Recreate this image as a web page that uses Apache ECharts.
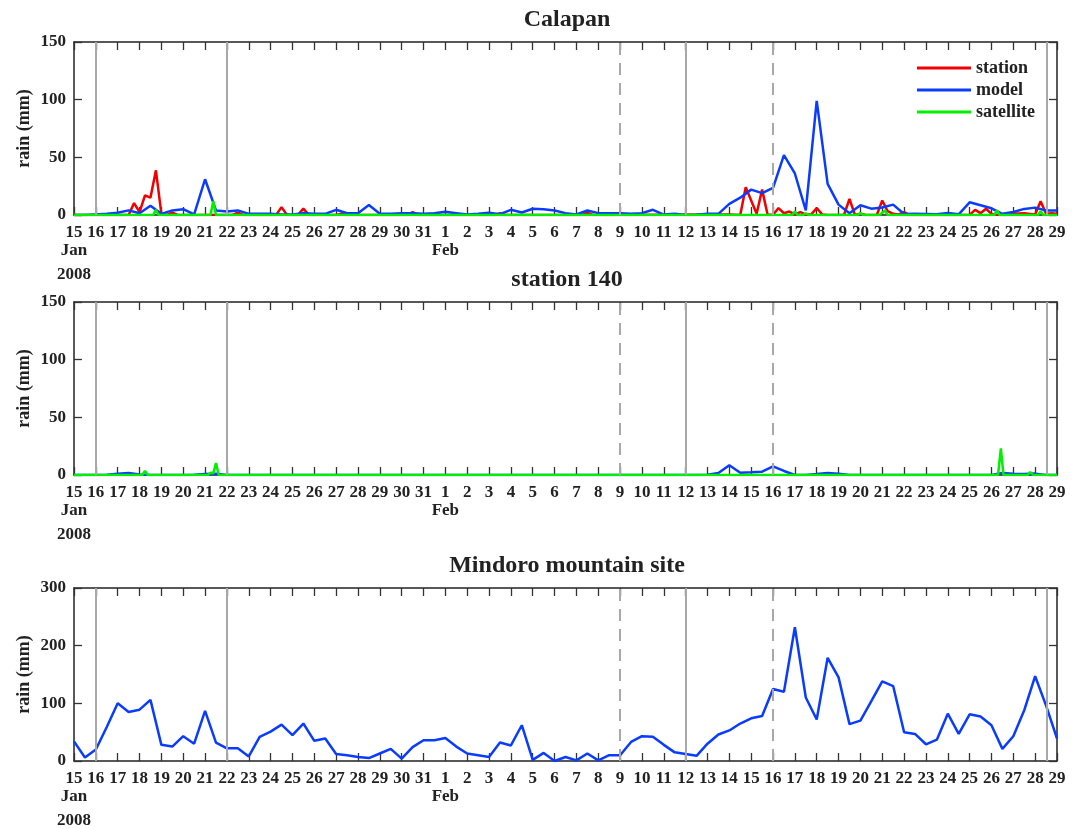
<!DOCTYPE html>
<html>
<head>
<meta charset="utf-8">
<script src="https://cdn.jsdelivr.net/npm/echarts@6/dist/echarts.min.js"></script>
<style>
   html, body { margin: 0; padding: 0; background: #fff; }
   #chart { width: 1081px; height: 829px; }
</style>
</head>
<body>
<div id="chart"></div>
<script>

// x axis: days after 15 Jan 2008, tick every day
const dayLabels = ['15','16','17','18','19','20','21','22','23','24','25','26','27','28','29','30','31',
   '1','2','3','4','5','6','7','8','9','10','11','12','13','14','15','16','17','18','19','20',
   '21','22','23','24','25','26','27','28','29'];
const monthLabels = { 0: 'Jan', 17: 'Feb' };
const yearLabels = { 0: '2008' };

const panelTitles = ['Calapan', 'station 140', 'Mindoro mountain site'];

// reference lines (day offsets)
const solidLines = [1, 7, 28, 44.55];
const dashedLines = [25, 32];

// model, 12-hourly from 15 Jan 00h
const calModel = [0,0,0.5,1,2,4,1.5,8,1,4,5,0.5,31,4,3,4,1,1,1,0.5,0.5,1.5,1,1,4.5,1.5,1.6,8.6,1,1,
   1.6,1.6,1,1.6,2.8,1.6,0.4,1,1.9,0.7,4.5,2.2,5.4,5,3.9,1.6,0.4,3.9,1.6,1.6,1.6,1,1.6,4.5,0.4,1,
   0,0.3,1,1,9.7,15,22,19,23.6,52,36,4,99,27,9,1.6,8.4,5.5,6.5,9,0.9,1,0.9,0.6,1.8,0.6,11,8.4,5.8,1,
   2.6,5.3,6.4,3.9,3.9];
const stnModel = [0,0,0,0.3,1,1.7,0.5,0,0,0,0,0.3,0.8,1,0,0,0,0,0,0,0,0,0,0,0,0,0,0,0,0,
   0,0,0,0,0,0,0,0,0,0,0,0,0,0,0,0,0,0,0,0,0,0,0,0,0,0,
   0,0,0.3,1.7,8.4,2,2.3,2.9,7.5,3.5,0,0,0.8,1.7,1,0,0,0,0,0,0,0,0,0,0,0,0,0,0,1.7,
   1,0.8,1.2,0,0];
const mtnModel = [34,6,20,59,100,85,89,106,28,25,43,30,87,32,22,22,8,42,51,63,45,65,35,39,12,10,7,5,13,21,
   4,24,36,36,40,25,13,10,7,32,27,62,2,14,0,7,1,13,1,10,10,33,43,42,28,15,
   12,9,30,46,53,65,74,78,125,120,232,110,72,179,145,64,70,104,138,130,50,47,29,37,82,47,81,77,62,21,
   43,88,147,96,39];

// station and satellite: [day, rain]
const calStation = [[0,0],[2.5,0],[2.75,10.3],[3,2.5],[3.25,17],[3.5,15],[3.75,38.7],[4,1],[4.25,0],[4.5,2],[4.75,0],
   [7.25,0],[7.5,2],[7.75,0],[9.25,0],[9.5,6.8],[9.75,0],[10.25,0],[10.5,5.5],[10.75,0],
   [12,0],[12.25,1],[12.5,0],[15.25,0],[15.5,2.5],[15.75,0],[19.25,0],[19.5,1.6],[19.75,0],
   [23.25,0],[23.5,2],[23.75,0],[30,0.5],[30.5,0],[30.75,24],[31.25,1],[31.5,22],[31.75,0.5],[32,0],
   [32.25,6],[32.5,1.5],[32.75,3],[33,0.5],[33.25,2.5],[33.5,0.5],[33.75,0.5],[34,6],[34.25,0.5],[34.5,0],
   [35.25,0],[35.5,14],[35.75,0],[36,1],[36.25,0],[36.75,0],[37,12.6],[37.25,3.3],[37.5,1],[37.75,0.5],
   [38,2.5],[38.25,0],[41,0],[41.25,4.5],[41.5,1.6],[41.75,5.4],[42,1],[42.25,0],[42.75,0],[43,1],
   [43.5,1.5],[44,0.5],[44.25,12],[44.5,1],[44.75,1.5],[45,1]];
const calSatellite = [[0,0],[3.625,0],[3.75,4.5],[3.875,0],[6.25,0],[6.375,12],[6.5,0],[32.875,0],[33,3],[33.125,0],
   [33.375,0],[33.5,1.5],[33.625,0],[35.875,0],[36,1.7],[36.125,0],[36.875,0],[37.125,3.9],[37.25,0],
   [42.125,0],[42.25,3.9],[42.375,0],[44.125,0],[44.25,3.3],[44.375,0],[45,0]];
const stnSatellite = [[0,0],[3.125,0],[3.25,3.5],[3.375,0],[6.125,0],[6.25,2],[6.375,1.5],[6.5,10.4],[6.625,0],
   [42.3,0],[42.43,23],[42.55,0],[43.65,0],[43.77,2.6],[43.9,0],[45,0]];

const yMax = [150, 150, 300];
const yStep = [50, 50, 100];


const font = 'Liberation Serif';
const ink = '#222222';
const colStation = '#f00000';
const colModel = '#0a3cff';
const colSatellite = '#00f000';

const gridTops = [42, 302, 588];
const gridHeight = 173;

function halfDaily(arr)
{
   return arr.map((v, k) => [k / 2, v]);
}

function monthLabel(v)
{
   var s = monthLabels[v] || '';
   if (yearLabels[v]) s += '\n' + yearLabels[v];
   return s;
}

const tickStyle = { show: true, inside: true, length: 8, lineStyle: { color: '#333', width: 1.3 } };
const boxLine = { show: true, onZero: false, lineStyle: { color: ink, width: 1.5 } };
const labelFont = { fontFamily: font, fontWeight: 'bold', fontSize: 17, color: ink };

var grids = [];
var xAxes = [];
var yAxes = [];
var titles = [];
var series = [];

for (var i=0; i<3; i++)
{
   grids.push({ left: 74, right: 24, top: gridTops[i], height: gridHeight, outerBoundsMode: 'none' });

   titles.push({
      text: panelTitles[i], left: 562, textAlign: 'center', top: gridTops[i] - 39,
      textStyle: { fontFamily: font, fontWeight: 'bold', fontSize: 24, color: ink }
   });

   // bottom axis: day numbers
   xAxes.push({
      type: 'value', gridIndex: i, min: 0, max: 45, interval: 1, position: 'bottom',
      axisLine: boxLine, axisTick: tickStyle,
      axisLabel: Object.assign({ margin: 4, lineHeight: 27, formatter: v => dayLabels[v],
                                 showMinLabel: true, showMaxLabel: true }, labelFont),
      splitLine: { show: false }
   });
   // top axis, ticks only
   xAxes.push({
      type: 'value', gridIndex: i, min: 0, max: 45, interval: 1, position: 'top',
      axisLine: boxLine, axisTick: tickStyle, axisLabel: { show: false },
      splitLine: { show: false }
   });
   // month / year row under the day numbers
   xAxes.push({
      type: 'value', gridIndex: i, min: 0, max: 45, interval: 1, position: 'bottom',
      axisLine: { show: false }, axisTick: { show: false },
      axisLabel: Object.assign({ margin: 24, lineHeight: 24, formatter: monthLabel,
                                 showMinLabel: true, showMaxLabel: false }, labelFont),
      splitLine: { show: false }
   });

   yAxes.push({
      type: 'value', gridIndex: i, min: 0, max: yMax[i], interval: yStep[i], position: 'left',
      name: 'rain (mm)', nameLocation: 'middle', nameGap: 41, nameMoveOverlap: false,
      nameTextStyle: { fontFamily: font, fontWeight: 'bold', fontSize: 18, color: ink },
      axisLine: boxLine, axisTick: tickStyle,
      axisLabel: Object.assign({ margin: 8 }, labelFont),
      splitLine: { show: false }
   });
   yAxes.push({
      type: 'value', gridIndex: i, min: 0, max: yMax[i], interval: yStep[i], position: 'right',
      axisLine: boxLine, axisTick: tickStyle, axisLabel: { show: false },
      splitLine: { show: false }
   });

   // gray reference lines
   var ml = [];
   for (const d of solidLines) ml.push({ xAxis: d, lineStyle: { type: 'solid' } });
   for (const d of dashedLines) ml.push({ xAxis: d, lineStyle: { type: [12, 8] } });
   series.push({
      type: 'line', xAxisIndex: 3*i, yAxisIndex: 2*i, data: [], z: 1, silent: true,
      markLine: { symbol: 'none', silent: true, label: { show: false },
                  lineStyle: { color: '#a8a8a8', width: 2 }, data: ml }
   });
}

function lineSeries(name, color, idx, data)
{
   return {
      type: 'line', name: name, xAxisIndex: 3*idx, yAxisIndex: 2*idx, data: data,
      showSymbol: false, symbol: 'none', z: 3,
      lineStyle: { color: color, width: 2.5 }, itemStyle: { color: color }
   };
}

series.push(lineSeries('station', colStation, 0, calStation));
series.push(lineSeries('model', colModel, 0, halfDaily(calModel)));
series.push(lineSeries('satellite', colSatellite, 0, calSatellite));

series.push(lineSeries('model', colModel, 1, halfDaily(stnModel)));
series.push(lineSeries('satellite', colSatellite, 1, stnSatellite));

series.push(lineSeries('model', colModel, 2, halfDaily(mtnModel)));

const chart = echarts.init(document.getElementById('chart'));
chart.setOption({
   animation: false,
   backgroundColor: '#ffffff',
   title: titles,
   grid: grids,
   xAxis: xAxes,
   yAxis: yAxes,
   legend: {
      data: ['station', 'model', 'satellite'],
      orient: 'vertical', left: 912, top: 54, itemGap: 4,
      itemWidth: 54, itemHeight: 3, icon: 'rect',
      textStyle: { fontFamily: font, fontWeight: 'bold', fontSize: 18, color: ink }
   },
   series: series
});

</script>
</body>
</html>
